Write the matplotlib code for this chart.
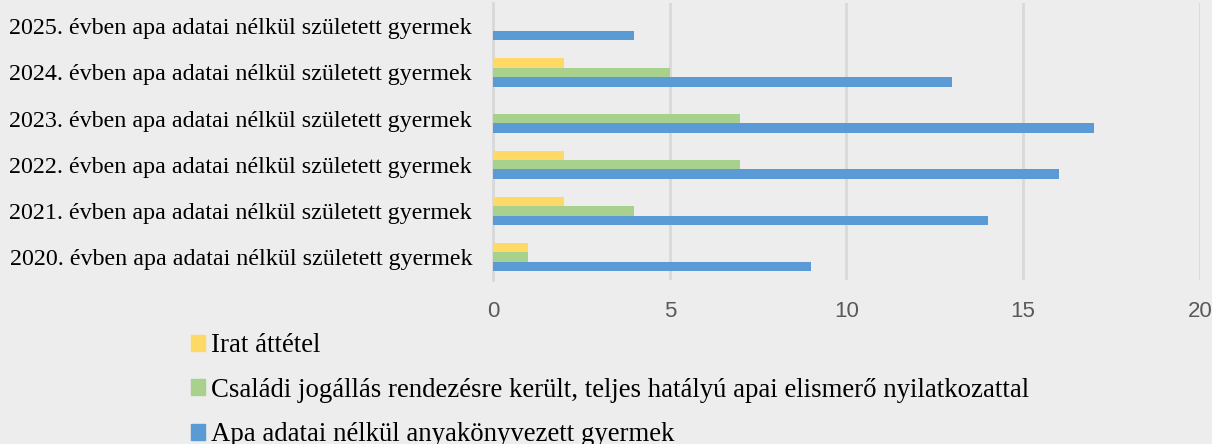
import numpy as np
import matplotlib.pyplot as plt
from matplotlib.patches import Patch

# data
years = ['2020', '2021', '2022', '2023', '2024', '2025']
cat_labels = [y + '. évben apa adatai nélkül született gyermek' for y in years]
apa_nelkul = [9, 14, 16, 17, 13, 4]
csaladi = [1, 4, 7, 7, 5, 0]
irat = [1, 2, 2, 0, 2, 0]
series_names = ['Irat áttétel',
                'Családi jogállás rendezésre került, teljes hatályú apai elismerő nyilatkozattal',
                'Apa adatai nélkül anyakönyvezett gyermek']

bg = '#EDEDED'
c_yellow = '#FFD966'
c_green = '#A9D18E'
c_blue = '#5B9BD5'

fig = plt.figure(figsize=(12.12, 4.44), dpi=100, facecolor=bg)
ax = fig.add_axes([0.4068, 0.369, 0.5832, 0.624], facecolor=bg)

y = np.arange(len(years))
h = 0.205
ax.barh(y + h, irat, height=h, color=c_yellow, zorder=3)
ax.barh(y, csaladi, height=h, color=c_green, zorder=3)
ax.barh(y - h, apa_nelkul, height=h, color=c_blue, zorder=3)

ax.set_xlim(0, 20)
ax.set_ylim(-0.5, len(years) - 0.5)
ax.set_xticks([0, 5, 10, 15, 20])
ax.set_yticks(y)
ax.set_yticklabels(cat_labels, fontfamily='Liberation Serif', fontsize=17.3, color='#000000')
ax.tick_params(axis='x', labelsize=16, colors='#595959', length=0, pad=15)
for lab in ax.get_xticklabels():
    lab.set_fontfamily('Liberation Sans')
ax.tick_params(axis='y', length=0, pad=15)
ax.grid(axis='x', color='#D9D9D9', linewidth=2, zorder=0)
for s in ['top', 'right', 'bottom']:
    ax.spines[s].set_visible(False)
ax.spines['left'].set_color('#D9D9D9')
ax.spines['left'].set_linewidth(2)

handles = [Patch(color=c_yellow), Patch(color=c_green), Patch(color=c_blue)]
fig.legend(handles, series_names, loc='upper left', bbox_to_anchor=(0.1484, 0.274),
           frameon=False, prop={'family': 'Liberation Serif', 'size': 19.3},
           handlelength=0.55, handleheight=0.55, handletextpad=0.2, labelspacing=0.73,
           borderaxespad=0)

fig.savefig('out.png', dpi=100, facecolor=bg)
